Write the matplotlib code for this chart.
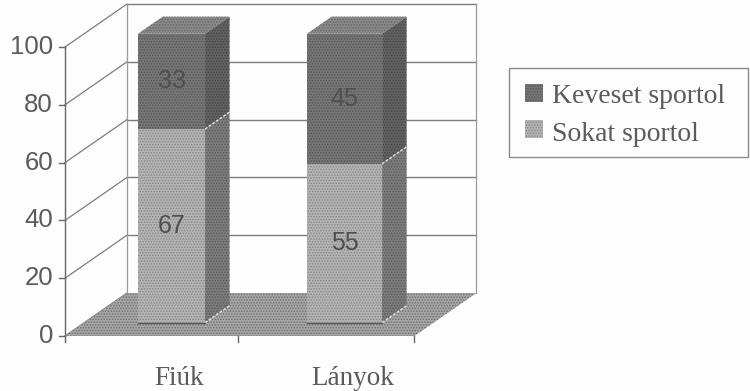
import matplotlib
matplotlib.use("Agg")
import matplotlib.pyplot as plt
from matplotlib.patches import Polygon, Rectangle

categories = ["Fiúk", "Lányok"]
series_names = ["Sokat sportol", "Keveset sportol"]
sokat = [67, 55]
keveset = [33, 45]
y_ticks = [0, 20, 40, 60, 80, 100]

plt.rcParams["hatch.linewidth"] = 0.7

W, H = 750, 391
fig = plt.figure(figsize=(W / 100, H / 100), dpi=100, facecolor="#fdfdfd")
ax = fig.add_axes([0, 0, 1, 1])
ax.axis("off")

# one x unit is one category slot, y is in percent
X0, UX = 65, 173
Y0, UY = 336, 2.89
ax.set_xlim(-X0 / UX, (W - X0) / UX)
ax.set_ylim((Y0 - H) / UY, Y0 / UY)

# oblique projection: depth 0 is the front of the floor, depth 1 the back wall
SHIFT_X = 62 / UX
SHIFT_Y = 43 / UY


def proj(x, v, d=0.0):
    return (x + d * SHIFT_X, v + d * SHIFT_Y)


def face(points, fc, hatch_c, hatch="......", z=2, edge=None):
    ax.add_patch(Polygon(points, closed=True, facecolor=fc, edgecolor=hatch_c,
                         hatch=hatch, lw=0, zorder=z))
    if edge:
        ax.add_patch(Polygon(points, closed=True, fill=False, edgecolor=edge,
                             lw=0.8, zorder=z + 0.1))


LINE = "#7d7d7d"
TEXT = "#5a5a5a"
n = len(categories)
x_end = n + 0.02

# floor
face([proj(0, 0), proj(x_end, 0), proj(x_end, 0, 1), proj(0, 0, 1)],
     "#a6a6a6", "#6c6c6c", "......", z=1)

# back wall and side wall grid
for v in y_ticks:
    a, b = proj(0, v), proj(0, v, 1)
    c = proj(x_end, v, 1)
    ax.plot([a[0], b[0]], [a[1], b[1]], color=LINE, lw=0.9, zorder=0.5)
    if v > 0:
        ax.plot([b[0], c[0]], [b[1], c[1]], color=LINE, lw=1.0, zorder=0.5)
for x in (0, x_end):
    a, b = proj(x, 0, 1), proj(x, 100, 1)
    ax.plot([a[0], b[0]], [a[1], b[1]], color="#9a9a9a", lw=0.9, zorder=0.5)

# value axis and ticks
a, b = proj(0, 0), proj(0, 100)
ax.plot([a[0], b[0]], [a[1], b[1]], color="#666666", lw=1.0, zorder=3)
tick_x = 6 / UX
tick_y = 6 / UY
for v in y_ticks:
    ax.plot([-tick_x, 0], [v, v], color="#666666", lw=1.0, zorder=3)
    ax.text(-tick_x - 6 / UX, v, str(v), ha="right", va="center",
            family="Liberation Sans", fontsize=18.5, color=TEXT)
for x in (0, 1, x_end):
    ax.plot([x, x], [0, -tick_y], color="#666666", lw=1.0, zorder=3)

# stacked bars
bar_widths = [0.387, 0.434]
D0, D1 = 0.31, 0.705
styles = {
    "low": dict(front=("#b4b4b4", "#858585"), side=("#7c7c7c", "#585858")),
    "high": dict(front=("#767676", "#565656"), side=("#626262", "#454545"),
                 top=("#8a8a8a", "#646464")),
}
for i, (lo, hi) in enumerate(zip(sokat, keveset)):
    cx = i + 0.505
    w = bar_widths[i]
    l, r = cx - w / 2, cx + w / 2
    total = lo + hi
    for start, end, key in ((0, lo, "low"), (lo, total, "high")):
        st = styles[key]
        face([proj(l, start, D0), proj(r, start, D0), proj(r, end, D0), proj(l, end, D0)],
             *st["front"], z=4)
        face([proj(r, start, D0), proj(r, start, D1), proj(r, end, D1), proj(r, end, D0)],
             *st["side"], z=3.5)
    face([proj(l, total, D0), proj(r, total, D0), proj(r, total, D1), proj(l, total, D1)],
         *styles["high"]["top"], z=3.5)
    # pale seams where the side face meets the floor and the next segment
    for level in (0, lo):
        p, q = proj(r, level, D0), proj(r, level, D1)
        ax.plot([p[0], q[0]], [p[1], q[1]], color="#e4e4e4", lw=1.0,
                linestyle=(0, (2, 1.2)), zorder=3.8)
    # dark outline along the foot of the front face
    p, q = proj(l, 0, D0), proj(r, 0, D0)
    ax.plot([p[0], q[0]], [p[1], q[1]], color="#555555", lw=1.0, zorder=4.2)
    for start, val in ((0, lo), (lo, hi)):
        x, y = proj(cx, start + val / 2, D0)
        ax.text(x, y, str(val), ha="center", va="center", family="Liberation Sans",
                fontsize=18, color="#4f4f4f", zorder=6)
    ax.annotate(categories[i], xy=(cx, 0), xytext=(27, -49),
                textcoords="offset pixels", ha="center", va="baseline",
                family="Liberation Serif", fontsize=19.5, color=TEXT)


def px(x, y):
    return x / W, 1 - y / H


# legend box, in figure fractions
fig.add_artist(Rectangle(px(509, 157), 239 / W, 89 / H, transform=fig.transFigure,
                         fill=False, edgecolor="#8a8a8a", lw=1.0))
legend_rows = [(series_names[1], 93, 103, styles["high"]["front"]),
               (series_names[0], 129, 141, styles["low"]["front"])]
for name, yc, baseline, (fc, hc) in legend_rows:
    fig.add_artist(Rectangle(px(525, yc + 9), 18 / W, 18 / H, transform=fig.transFigure,
                             facecolor=fc, edgecolor=hc, hatch="......", lw=0))
    fig.text(*px(552, baseline), name, ha="left", va="baseline", family="Liberation Serif",
             fontsize=20, color=TEXT)

fig.savefig("out.png", dpi=100, facecolor=fig.get_facecolor())
